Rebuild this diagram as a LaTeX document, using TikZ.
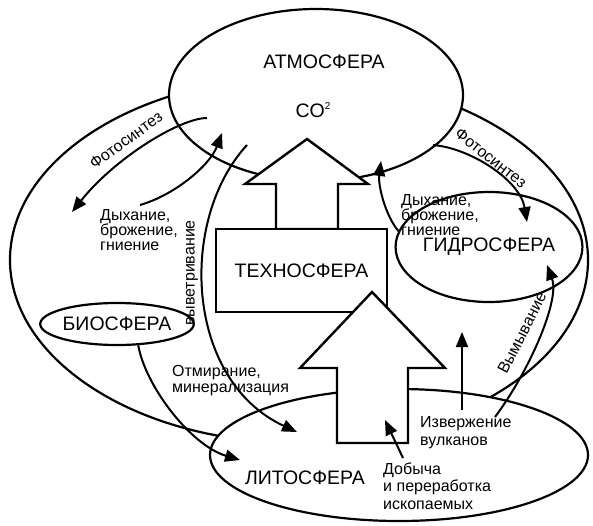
\documentclass[tikz,border=0pt]{standalone}
\usepackage{fontspec}
\setmainfont{Liberation Sans}
\usetikzlibrary{arrows.meta,shapes.geometric}

\tikzset{
  sphere/.style={draw, ellipse, line width=2.2pt, fill=white, inner sep=0pt},
  bigtext/.style={font=\fontsize{19.5}{22}\selectfont},
  lbl/.style={font=\fontsize{16}{15}\selectfont, align=left, anchor=west, inner sep=0pt},
  arclbl/.style={font=\fontsize{16}{18}\selectfont, inner sep=0pt},
  flow/.style={line width=2pt, -{Triangle[length=15pt,width=12pt]}},
  block/.style={draw, line width=2.4pt, fill=white, line join=miter},
}

\begin{document}
\begin{tikzpicture}[x=1pt, y=-1pt]
\useasboundingbox (0,0) rectangle (593,525);

% outer loop
\draw[line width=2.2pt] (299,260) ellipse [x radius=289pt, y radius=183pt];

% spheres
\node[sphere, minimum width=294pt, minimum height=172pt] (atmo) at (316,95) {};
\node[sphere, minimum width=378pt, minimum height=132pt] (litho) at (399,455) {};
\node[sphere, minimum width=182pt, minimum height=110pt, bigtext] (hydro) at (489,247) {ГИДРОСФЕРА};
\node[sphere, minimum width=138pt, minimum height=42pt, bigtext] (bio) at (117,324) {БИОСФЕРА};

\node[bigtext] (atmolbl) at (324,62) {АТМОСФЕРА};
\node[bigtext] (co2) at (313,110) {CO\raisebox{0.75ex}{\fontsize{10}{10}\selectfont 2}};
\node[bigtext] (litholbl) at (305,478) {ЛИТОСФЕРА};

% technosphere and its two block arrows
\draw[block] (276,229) -- (276,184) -- (245,184) -- (307,139)
  -- (368,184) -- (338,184) -- (338,229) -- cycle;
\node[block, bigtext, minimum width=171pt, minimum height=83pt] (techno) at (301.5,270.5) {ТЕХНОСФЕРА};
\draw[block] (337,443) -- (337,368) -- (300,368) -- (372,292)
  -- (445,368) -- (408,368) -- (408,443) -- cycle;

% ends of the flows
\coordinate (fotoA) at (207,118);
\coordinate (fotoAend) at (72,212);
\coordinate (dyhA) at (140,205);
\coordinate (dyhAend) at (222,133);
\coordinate (vyvetr) at (247,145);
\coordinate (vyvetrend) at (297,432);
\coordinate (otmirend) at (240,460);
\coordinate (fotoB) at (433,145);
\coordinate (fotoBend) at (527,222);
\coordinate (dyhBend) at (381,161);
\coordinate (vymyv) at (495,417);
\coordinate (vymyvend) at (547,265);
\coordinate (vulk) at (462,410);
\coordinate (vulkend) at (462,332);
\coordinate (dobych) at (403,458);
\coordinate (dobychend) at (385,420);

% flows
\draw[flow] (fotoA) .. controls (180,118) and (115,158) .. (fotoAend);
\draw[flow] (dyhA) .. controls (175,195) and (210,165) .. (dyhAend);
\draw[flow] (vyvetr) .. controls (178,220) and (185,380) .. (vyvetrend);
\draw[flow] (bio.-45) .. controls (145,385) and (190,445) .. (otmirend);
\draw[flow] (fotoB) .. controls (470,148) and (520,180) .. (fotoBend);
\draw[flow] (hydro.170) .. controls (385,215) and (378,185) .. (dyhBend);
\draw[flow] (vymyv) .. controls (530,370) and (560,300) .. (vymyvend);
\draw[flow] (vulk) -- (vulkend);
\draw[flow] (dobych) -- (dobychend);

% labels
\node[arclbl, rotate=36] (fotoAlbl) at (126,140) {Фотосинтез};
\node[lbl] (dyhAlbl) at (100,230) {Дыхание,\\брожение,\\гниение};
\node[arclbl, rotate=90] (vyvetrlbl) at (192,273) {выветривание};
\node[lbl, font=\fontsize{16}{16}\selectfont] (otmirlbl) at (172,381) {Отмирание,\\минерализация};
\node[arclbl, rotate=-38] (fotoBlbl) at (491,158) {Фотосинтез};
\node[lbl] (dyhBlbl) at (401,215) {Дыхание,\\брожение,\\гниение};
\node[arclbl, rotate=63] (vymyvlbl) at (522,333) {Вымывание};
\node[lbl, font=\fontsize{16}{18}\selectfont] (vulklbl) at (420,433) {Извержение\\вулканов};
\node[lbl, font=\fontsize{16}{17.5}\selectfont] (dobychlbl) at (383,486) {Добыча\\и переработка\\ископаемых};
\end{tikzpicture}
\end{document}
